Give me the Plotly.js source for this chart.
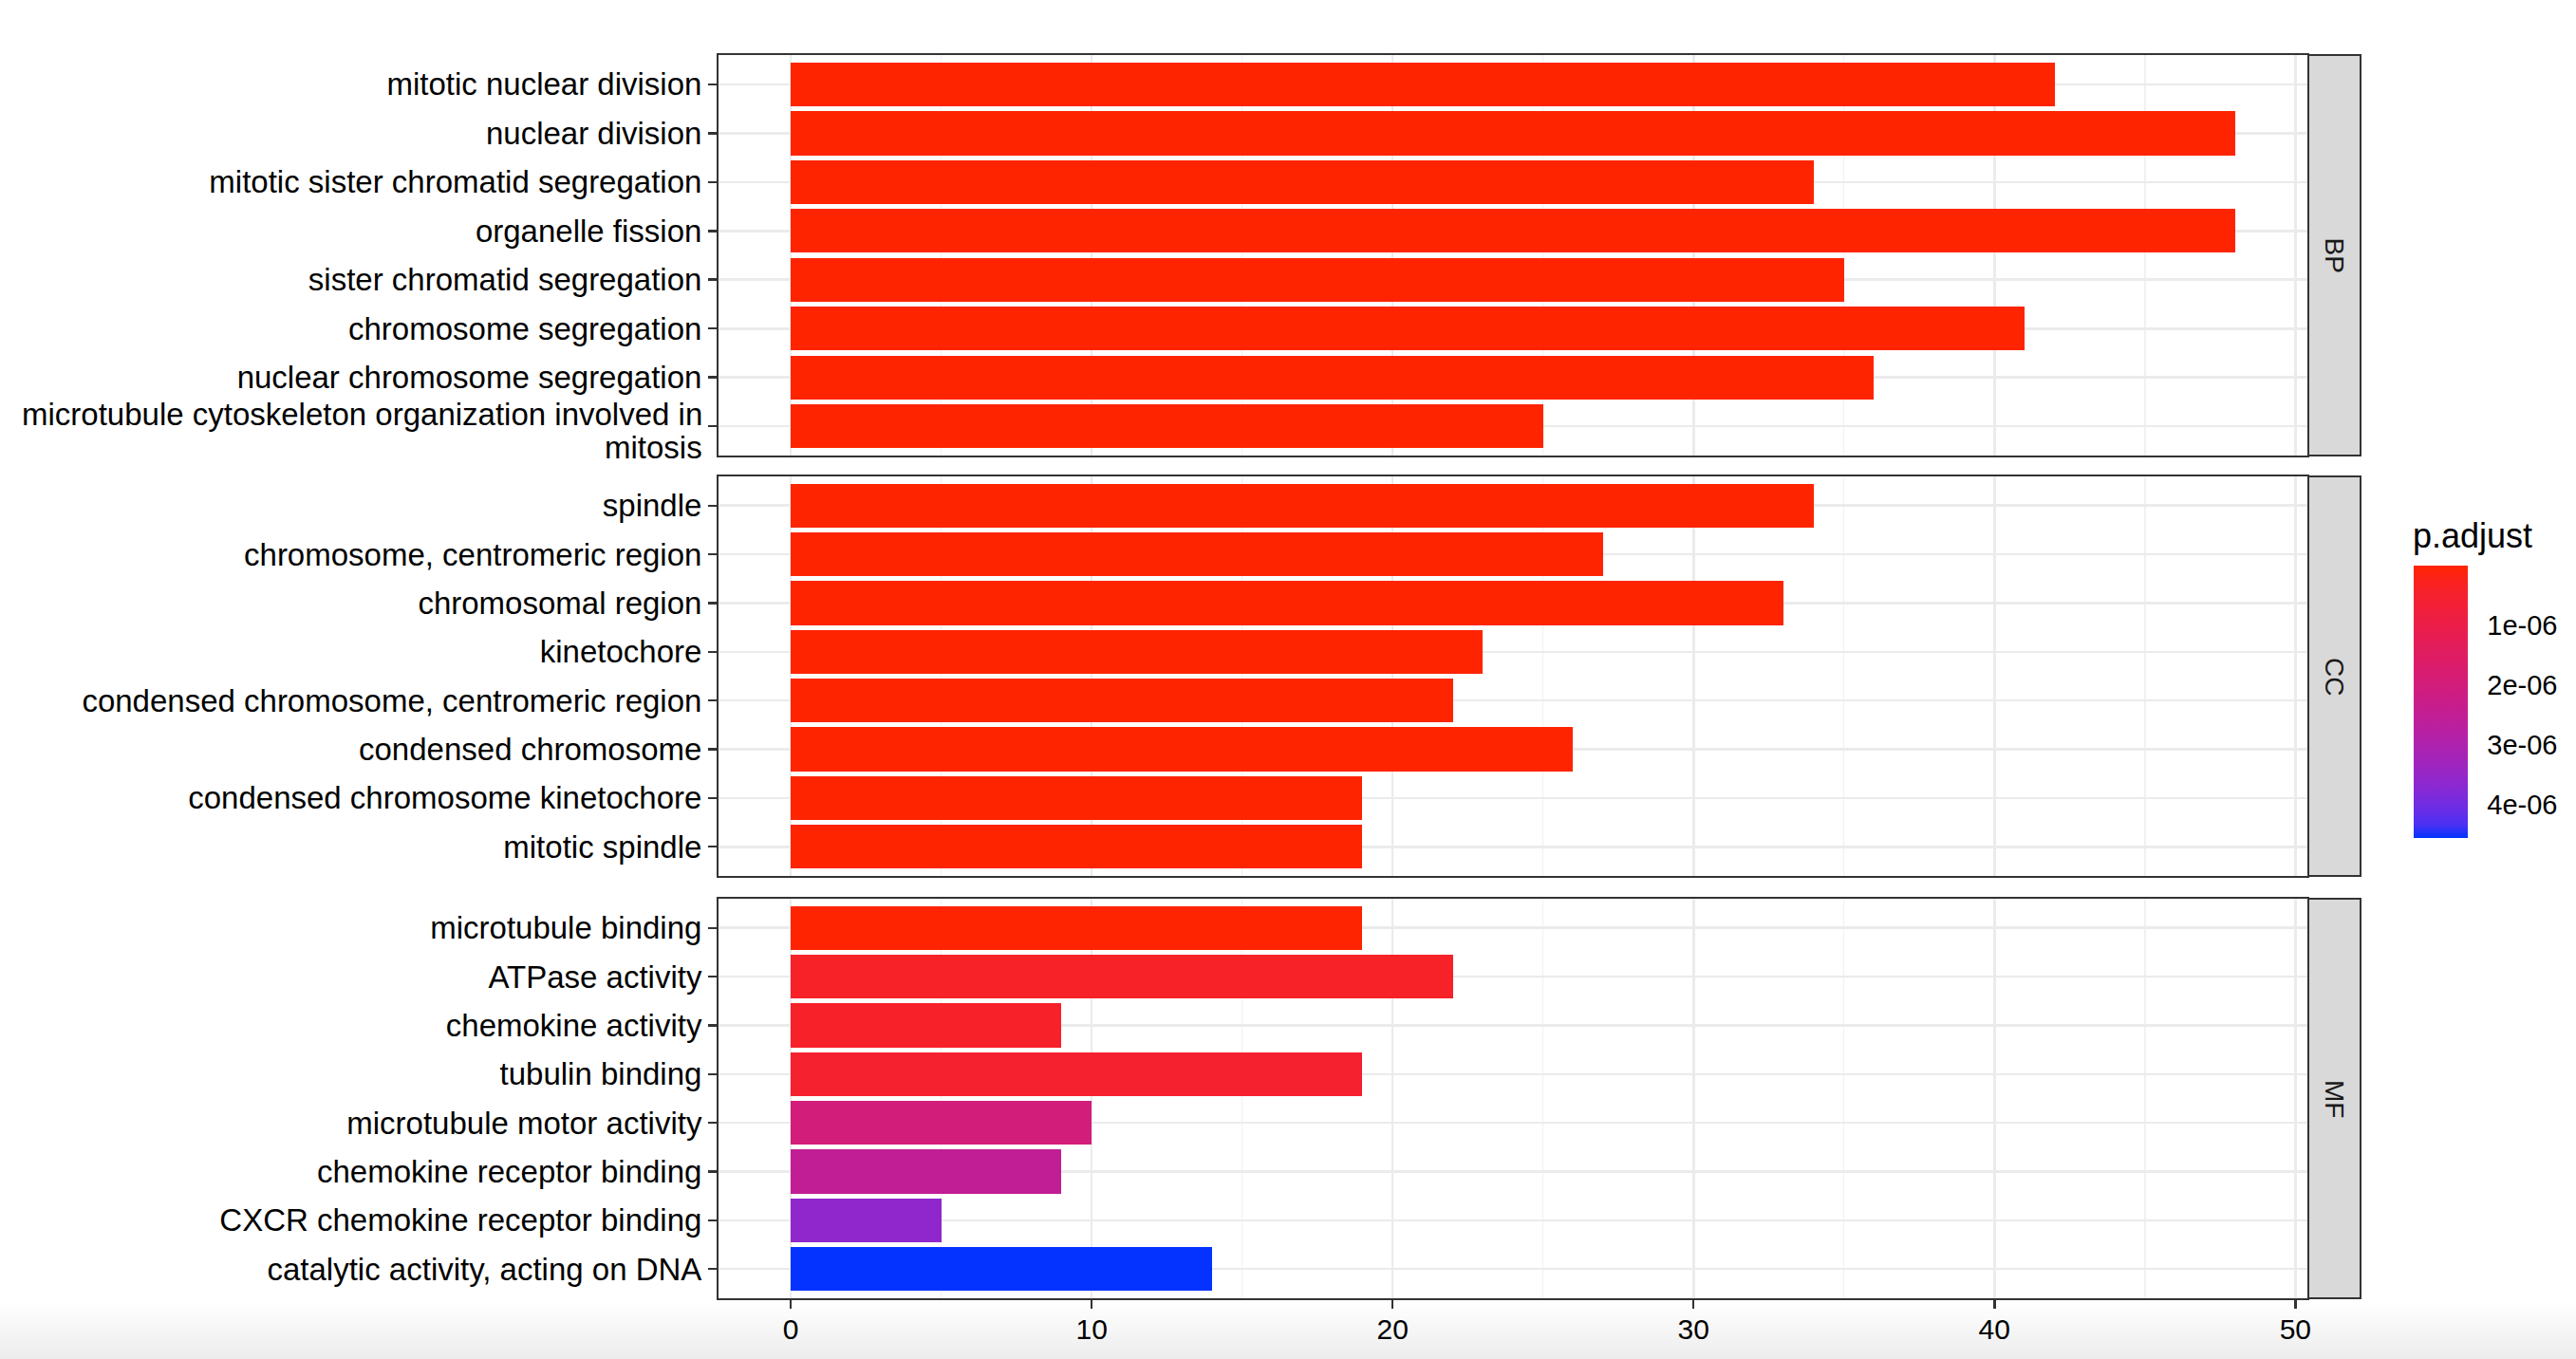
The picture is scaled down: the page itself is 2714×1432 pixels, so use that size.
<!DOCTYPE html>
<html>
<head>
<meta charset="utf-8">
<script src="https://cdn.plot.ly/plotly-3.0.1.min.js"></script>
<style>
  html, body { margin: 0; padding: 0; }
  body { background: linear-gradient(to bottom, #ffffff 0px, #ffffff 1372px, #ececec 1432px); }
  #chart { width: 2714px; height: 1432px; }
</style>
</head>
<body>
<div id="chart"></div>
<script>
// ---------------- data ----------------
const bpTerms = [
  "mitotic nuclear division",
  "nuclear division",
  "mitotic sister chromatid segregation",
  "organelle fission",
  "sister chromatid segregation",
  "chromosome segregation",
  "nuclear chromosome segregation",
  "microtubule cytoskeleton organization involved in<br>mitosis"
];
const bpCounts = [42, 48, 34, 48, 35, 41, 36, 25];
const bpPadj = [2.1e-13, 3.0e-14, 4.5e-12, 3.2e-14, 6.0e-12, 8.1e-13, 5.2e-12, 7.4e-11];

const ccTerms = [
  "spindle",
  "chromosome, centromeric region",
  "chromosomal region",
  "kinetochore",
  "condensed chromosome, centromeric region",
  "condensed chromosome",
  "condensed chromosome kinetochore",
  "mitotic spindle"
];
const ccCounts = [34, 27, 33, 23, 22, 26, 19, 19];
const ccPadj = [1.5e-11, 3.3e-11, 4.0e-10, 6.1e-10, 7.2e-10, 8.8e-10, 2.4e-9, 3.1e-9];

const mfTerms = [
  "microtubule binding",
  "ATPase activity",
  "chemokine activity",
  "tubulin binding",
  "microtubule motor activity",
  "chemokine receptor binding",
  "CXCR chemokine receptor binding",
  "catalytic activity, acting on DNA"
];
const mfCounts = [19, 22, 9, 19, 10, 9, 5, 14];
const mfPadj = [5.0e-9, 4.1e-7, 4.3e-7, 5.1e-7, 1.97e-6, 2.53e-6, 3.58e-6, 4.55e-6];

const facetNames = ["BP", "CC", "MF"];
const xTickVals = [0, 10, 20, 30, 40, 50];
const cbTickVals = [1e-6, 2e-6, 3e-6, 4e-6];
const cbTickText = ["1e-06", "2e-06", "3e-06", "4e-06"];

// ---------------- colour helpers (Lab interpolation like ggplot) ----------------
function hexToRgb(h){ h=h.replace('#',''); return [0,2,4].map(i=>parseInt(h.substr(i,2),16)); }
function toLin(c){ c/=255; return c<=0.04045? c/12.92 : Math.pow((c+0.055)/1.055,2.4); }
function fromLin(c){ c = c<=0.0031308? 12.92*c : 1.055*Math.pow(c,1/2.4)-0.055; return Math.round(Math.max(0,Math.min(1,c))*255); }
const WN=[0.95047,1,1.08883];
function f(t){ return t>0.008856? Math.cbrt(t) : 7.787*t+16/116; }
function fi(t){ return t>0.206893? t*t*t : (t-16/116)/7.787; }
function rgbToLab(rgb){
  const [r,g,b]=rgb.map(toLin);
  const X=(0.4124*r+0.3576*g+0.1805*b)/WN[0], Y=(0.2126*r+0.7152*g+0.0722*b)/WN[1], Z=(0.0193*r+0.1192*g+0.9505*b)/WN[2];
  const fx=f(X), fy=f(Y), fz=f(Z);
  return [116*fy-16, 500*(fx-fy), 200*(fy-fz)];
}
function labToRgb(lab){
  const fy=(lab[0]+16)/116, fx=fy+lab[1]/500, fz=fy-lab[2]/200;
  const X=fi(fx)*WN[0], Y=fi(fy)*WN[1], Z=fi(fz)*WN[2];
  const r= 3.2406*X-1.5372*Y-0.4986*Z, g=-0.9689*X+1.8758*Y+0.0415*Z, b=0.0557*X-0.2040*Y+1.0570*Z;
  return 'rgb('+[r,g,b].map(fromLin).join(',')+')';
}
const lowCol = rgbToLab(hexToRgb('#FF2400'));
const highCol = rgbToLab(hexToRgb('#0433FF'));
const colorscale = [];
const NS = 20;
for (let i=0;i<=NS;i++){
  const s=i/NS;          // 0 -> highest p (blue, bottom), 1 -> lowest p (red, top)
  const t=1-s;
  const lab=[0,1,2].map(k=>lowCol[k]+(highCol[k]-lowCol[k])*t);
  colorscale.push([s, labToRgb(lab)]);
}

const allP = bpPadj.concat(ccPadj, mfPadj);
const cmax = -Math.min(...allP);
const cmin = -Math.max(...allP);

// ---------------- layout geometry ----------------
const W=2714, H=1432;
const mL=757, mR=227, mT=58, mB=64;
const plotW=W-mL-mR, plotH=H-mT-mB;
const panelRight = 2431;
const xDomEnd = (panelRight-mL)/plotW;
function py(pix){ return (H-mB-pix)/plotH; }
function px(pix){ return (pix-mL)/plotW; }
const domains = [[py(480), 1], [py(923), py(502)], [0, py(947)]];

const font = "Liberation Sans, Arial, Helvetica, sans-serif";
const groups = [[bpTerms,bpCounts,bpPadj],[ccTerms,ccCounts,ccPadj],[mfTerms,mfCounts,mfPadj]];

const traces = groups.map((g,i)=>({
  type:'bar', orientation:'h',
  x:g[1], y:g[0],
  xaxis: i===0?'x':'x'+(i+1), yaxis: i===0?'y':'y'+(i+1),
  width:0.9,
  marker:{color:g[2].map(p=>-p), coloraxis:'coloraxis', line:{width:0}},
  hoverinfo:'x+y'
}));

const cbTop=596, cbLen=287, cbLeft=2543, cbRight=2600;

const layout = {
  width:W, height:H,
  paper_bgcolor:'rgba(0,0,0,0)', plot_bgcolor:'#ffffff',
  margin:{l:mL, r:mR, t:mT, b:mB, autoexpand:false, pad:0},
  showlegend:false,
  font:{family:font, color:'#000000'},
  bargap:0,
  coloraxis:{
    colorscale:colorscale, cmin:cmin, cmax:cmax,
    colorbar:{
      thickness:cbRight-cbLeft, thicknessmode:'pixels',
      len:cbLen, lenmode:'pixels',
      xref:'paper', x:px(cbLeft), xanchor:'left',
      yref:'paper', y:py(cbTop), yanchor:'top',
      xpad:0, ypad:0, outlinewidth:0,
      tickvals:cbTickVals.map(v=>-v), ticktext:cbTickText,
      ticks:'outside', ticklen:15, tickcolor:'rgba(0,0,0,0)',
      tickfont:{size:29, family:font, color:'#000000'}
    }
  },
  shapes:[], annotations:[]
};

for (let i=0;i<3;i++){
  const xs = i===0?'xaxis':'xaxis'+(i+1);
  const ys = i===0?'yaxis':'yaxis'+(i+1);
  const yid = i===0?'y':'y'+(i+1);
  const xid = i===0?'x':'x'+(i+1);
  const terms = groups[i][0];
  layout[xs] = {
    domain:[0,xDomEnd], anchor:yid, range:[-2.4,50.4],
    tickmode:'array', tickvals:xTickVals,
    showticklabels: i===2, ticks: i===2?'outside':'',
    ticklen:9, tickwidth:2.5, tickcolor:'#333333',
    ticklabelstandoff:-4,
    tickfont:{size:30, family:font, color:'#000000'},
    showgrid:true, gridcolor:'#EBEBEB', gridwidth:2.6,
    minor:{dtick:5, tick0:0, showgrid:true, gridcolor:'#F1F1F1', gridwidth:1.4},
    zeroline:false,
    showline:true, mirror:true, linecolor:'#333333', linewidth:2,
    fixedrange:true
  };
  if (i<2) layout[xs].matches = 'x3';
  // multi-line labels are drawn as separate tight lines (annotations), plain ones as tick text
  const tickText = terms.map(t=>t.indexOf('<br>')>=0 ? '' : t);
  layout[ys] = {
    domain:domains[i], anchor:xid,
    type:'category', categoryorder:'array', categoryarray:terms,
    tickmode:'array', tickvals:terms, ticktext:tickText,
    range:[terms.length-0.4, -0.6],
    ticks:'outside', ticklen:9, tickwidth:2.5, tickcolor:'#333333',
    tickfont:{size:33, family:font, color:'#000000'},
    showgrid:true, gridcolor:'#EBEBEB', gridwidth:2.6,
    zeroline:false,
    showline:true, mirror:true, linecolor:'#333333', linewidth:2,
    fixedrange:true
  };
  terms.forEach((t,k)=>{
    if (t.indexOf('<br>')<0) return;
    const lines = t.split('<br>');
    const off = 0.34;
    lines.forEach((ln,j)=>{
      layout.annotations.push({
        xref:'paper', yref:yid, x:px(742), y:k + 0.1 + (j-(lines.length-1)/2)*2*off,
        text:ln, showarrow:false, xanchor:'right', yanchor:'middle',
        font:{size:33, family:font, color:'#000000'}
      });
    });
  });
  // facet strip
  layout.shapes.push({
    type:'rect', xref:'paper', yref:yid+' domain',
    x0:px(panelRight+1), x1:1, y0:0, y1:1,
    fillcolor:'#D9D9D9', line:{color:'#333333', width:2}, layer:'above'
  });
  layout.annotations.push({
    xref:'paper', yref:yid+' domain',
    x:px((panelRight+1+W-mR)/2), y:0.5,
    text:facetNames[i], textangle:90, showarrow:false,
    xanchor:'center', yanchor:'middle',
    font:{size:28, family:font, color:'#1A1A1A'}
  });
}

// legend title
layout.annotations.push({
  xref:'paper', yref:'paper',
  x:px(2540), y:py(564),
  text:'p.adjust', showarrow:false, xanchor:'left', yanchor:'middle',
  font:{size:36, family:font, color:'#000000'}
});

// white tick marks inside the colour bar (both sides, like ggplot)
cbTickVals.forEach(v=>{
  const pix = cbTop + (cmax-(-v))/(cmax-cmin)*cbLen;
  [[cbLeft, cbLeft+11],[cbRight-11, cbRight]].forEach(seg=>{
    layout.shapes.push({
      type:'line', xref:'paper', yref:'paper',
      x0:px(seg[0]), x1:px(seg[1]), y0:py(pix), y1:py(pix),
      line:{color:'rgba(255,255,255,0.85)', width:1.6}, layer:'above'
    });
  });
});

Plotly.newPlot('chart', traces, layout, {displayModeBar:false, staticPlot:true});
</script>
</body>
</html>
